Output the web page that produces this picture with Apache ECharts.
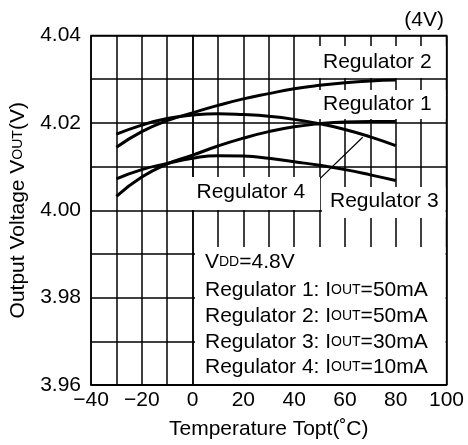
<!DOCTYPE html>
<html>
<head>
<meta charset="utf-8">
<script src="https://cdn.jsdelivr.net/npm/echarts@6/dist/echarts.min.js"></script>
<style>
html,body{margin:0;padding:0;background:#fff;}
#chart{width:468px;height:445px;}
</style>
</head>
<body>
<div id="chart"></div>
<script>
// ---- data ----
const temps = [-30, -20, -10, 0, 10, 20, 30, 40, 50, 60, 70, 80];
const reg1 = [4.0174, 4.0195, 4.0210, 4.0218, 4.0221, 4.0219, 4.0215, 4.0208, 4.0198, 4.0185, 4.0168, 4.0148];
const reg2 = [4.0144, 4.0180, 4.0205, 4.0223, 4.0240, 4.0255, 4.0267, 4.0278, 4.0286, 4.0292, 4.0296, 4.0298];
const reg3 = [4.0072, 4.0093, 4.0107, 4.0119, 4.0125, 4.0124, 4.0119, 4.0111, 4.0103, 4.0093, 4.0081, 4.0068];
const reg4 = [4.0032, 4.0076, 4.0106, 4.0126, 4.0147, 4.0165, 4.0180, 4.0191, 4.0198, 4.0202, 4.0203, 4.0203];
const seriesNames = ['Regulator 1', 'Regulator 2', 'Regulator 3', 'Regulator 4'];
const xTickLabels = ['\u221240', '\u221220', '0', '20', '40', '60', '80', '100'];
const yTickLabels = ['3.96', '3.98', '4.00', '4.02', '4.04'];
const leaderFrom = [46, 4.0049];
const leaderTo = [67, 4.0167];

const FONT = '"Liberation Sans", Arial, Helvetica, sans-serif';
const chart = echarts.init(document.getElementById('chart'), null, {renderer: 'canvas'});

function pairs(vals) { return temps.map((t, i) => [t, vals[i]]); }

const lineSeries = [reg1, reg2, reg3, reg4].map((vals, i) => ({
  name: seriesNames[i],
  type: 'line',
  data: pairs(vals),
  smooth: true,
  symbol: 'none',
  lineStyle: {color: '#000', width: 3},
  z: 5,
  silent: true
}));
lineSeries[3].markLine = {
  silent: true,
  symbol: ['none', 'none'],
  label: {show: false},
  lineStyle: {color: '#000', width: 1.2, type: 'solid'},
  data: [[{coord: leaderFrom}, {coord: leaderTo}]]
};

const txt = (x, y, text, extra) => Object.assign({
  type: 'text', z: 101,
  style: {x: x, y: y, text: text, font: '21px ' + FONT, fill: '#000',
          align: 'left', verticalAlign: 'middle',
          rich: {s: {fontSize: 14, fontFamily: FONT, fill: '#000'}}}
}, extra || {});
const box = (x, y, w, h) => ({type: 'rect', z: 100, shape: {x: x, y: y, width: w, height: h},
  style: {fill: '#fff', stroke: null}});

const option = {
  animation: false,
  backgroundColor: '#fff',
  grid: {left: 91, right: 21.5, top: 35.5, bottom: 55, show: true,
         borderColor: '#000', borderWidth: 1.5, backgroundColor: 'transparent'},
  xAxis: {
    type: 'value', min: -40, max: 100, interval: 10,
    axisLine: {show: true, lineStyle: {color: '#000', width: 1.5}},
    axisTick: {show: false},
    splitLine: {show: true, lineStyle: {color: '#000', width: 1.5}},
    axisLabel: {
      color: '#000', fontSize: 21, fontFamily: FONT, margin: 5,
      formatter: v => { const s = String(Math.round(v)).replace('-', '\u2212'); return xTickLabels.includes(s) ? s : ''; }
    },
    name: 'Temperature Topt(\u02DAC)', nameLocation: 'middle', nameGap: 34,
    nameTextStyle: {color: '#000', fontSize: 21, fontFamily: FONT}
  },
  yAxis: {
    type: 'value', min: 3.96, max: 4.04, interval: 0.01,
    axisLine: {show: true, lineStyle: {color: '#000', width: 1.5}},
    axisTick: {show: false},
    splitLine: {show: true, lineStyle: {color: '#000', width: 1.5}},
    axisLabel: {
      color: '#000', fontSize: 21, fontFamily: FONT, margin: 10,
      formatter: v => { const s = v.toFixed(2); return yTickLabels.includes(s) ? s : ''; }
    },
    name: 'Output Voltage V{s|OUT}(V)', nameLocation: 'middle', nameGap: 62, nameRotate: 90,
    nameTextStyle: {color: '#000', fontSize: 21, fontFamily: FONT,
                    rich: {s: {fontSize: 14, fontFamily: FONT, color: '#000'}}}
  },
  series: lineSeries,
  graphic: [
    box(318, 46, 127.5, 32),
    box(318, 90, 127.5, 29),
    box(322, 187, 123.5, 31),
    box(190, 177, 130, 33),
    box(195, 247, 250.5, 137),
    txt(323, 62, 'Regulator 2'),
    txt(323, 104.5, 'Regulator 1'),
    txt(330, 201, 'Regulator 3'),
    txt(196.5, 192, 'Regulator 4'),
    txt(205, 262.5, 'V{s|DD}=4.8V'),
    txt(205, 290, 'Regulator 1: I{s|OUT}=50mA'),
    txt(205, 316, 'Regulator 2: I{s|OUT}=50mA'),
    txt(205, 342.3, 'Regulator 3: I{s|OUT}=30mA'),
    txt(205, 367, 'Regulator 4: I{s|OUT}=10mA'),
    {type: 'text', z: 101, style: {x: 444, y: 20.5, text: '(4V)', font: '21px ' + FONT,
      fill: '#000', align: 'right', verticalAlign: 'middle'}}
  ]
};
chart.setOption(option);
</script>
</body>
</html>
